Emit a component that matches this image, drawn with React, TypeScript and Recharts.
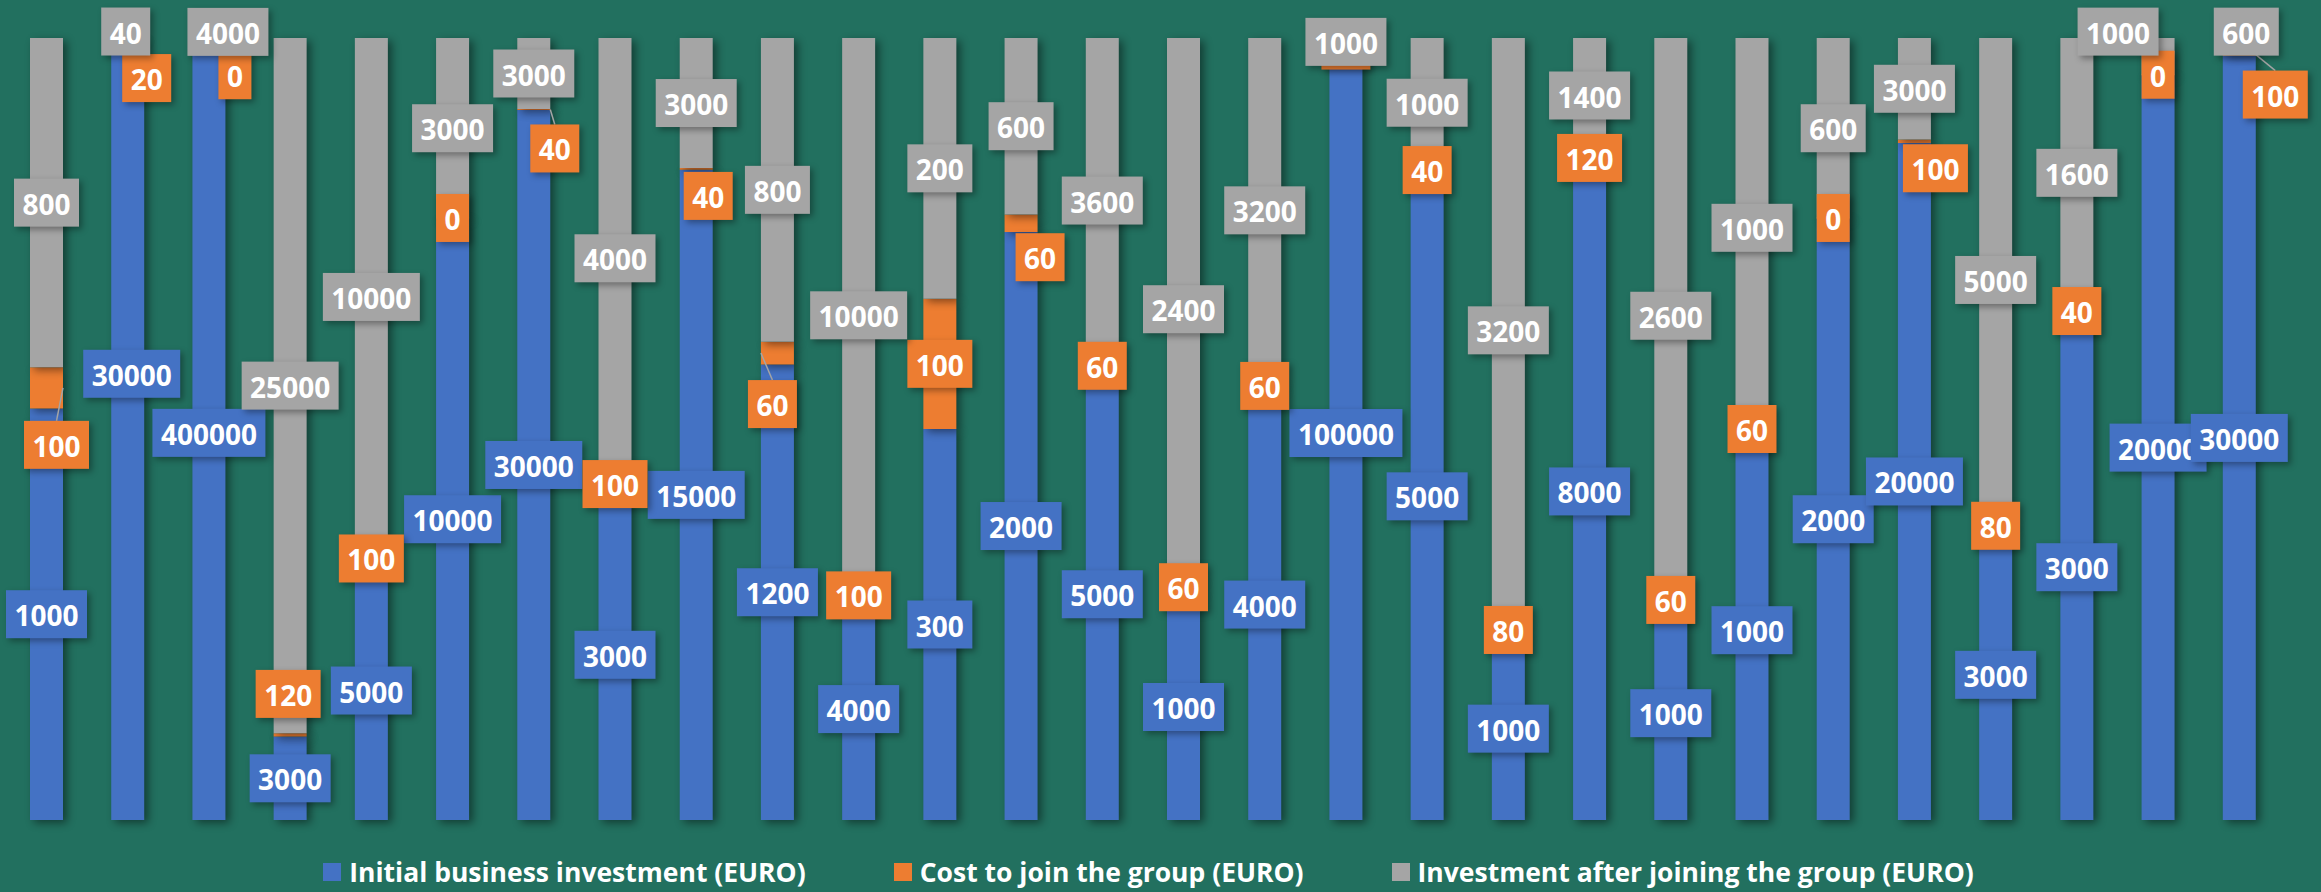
import React from 'react'
import { Bar, BarChart, LabelList, XAxis, YAxis } from 'recharts'

// 28 respondents, no category names are shown on the chart
const groups = ['1', '2', '3', '4', '5', '6', '7', '8', '9', '10', '11', '12', '13', '14', '15', '16', '17', '18', '19', '20', '21', '22', '23', '24', '25', '26', '27', '28']

const initialInvestment = [1000, 30000, 400000, 3000, 5000, 10000, 30000, 3000, 15000, 1200, 4000, 300, 2000, 5000, 1000, 4000, 100000, 5000, 1000, 8000, 1000, 1000, 2000, 20000, 3000, 3000, 20000, 30000]
const joinCost = [100, 20, 0, 120, 100, 0, 40, 100, 40, 60, 100, 100, 60, 60, 60, 60, 40, 40, 80, 120, 60, 60, 0, 100, 80, 40, 0, 100]
const afterJoining = [800, 40, 4000, 25000, 10000, 3000, 3000, 4000, 3000, 800, 10000, 200, 600, 3600, 2400, 3200, 1000, 1000, 3200, 1400, 2600, 1000, 600, 3000, 5000, 1600, 1000, 600]

const seriesNames = ['Initial business investment (EURO)', 'Cost to join the group (EURO)', 'Investment after joining the group (EURO)']

const BLUE = '#4472C4'
const ORANGE = '#ED7D31'
const GRAY = '#A5A5A5'
const BG = '#22705F'

// labels that were dragged away from the segment centre in the original
const initialShift: Record<number, number[]> = { 1: [4, -56] }
const costShift: Record<number, number[]> = {
    0: [10, 57], 1: [19, 39], 2: [26, 30], 3: [-2, -41], 6: [21, 39],
    8: [12, 27], 9: [-5, 51], 12: [19, 34], 23: [21, 27], 27: [36, 40],
}
const afterShift: Record<number, number[]> = { 1: [-2, -7], 2: [19, -10], 26: [-40, -25], 27: [7, -14] }
const costLeaders = [0, 6, 9, 27]

const rows = groups.map((g, i) => ({
    group: g,
    initial: initialInvestment[i],
    cost: joinCost[i],
    after: afterJoining[i],
}))

// LabelList gets dataKey="group", so value tells us which category we are on
const makeLabel = (values: number[], fill: string, shifts: Record<number, number[]>, leaders: number[] = []) => (props: any) => {
    const vb = props.viewBox || {}
    let index = groups.indexOf(String(props.value))
    if (index < 0) index = props.index
    const x = Number(props.x ?? vb.x)
    const y = Number(props.y ?? vb.y)
    const w = Number(props.width ?? vb.width)
    const h = Number(props.height ?? vb.height)
    if (index == null || isNaN(x) || isNaN(y)) return null
    const cx = x + w / 2
    const cy = y + h / 2
    const [dx, dy] = shifts[index] || [0, 0]
    const text = String(values[index])
    const bw = 17 + 16 * text.length
    const bh = 48
    const lx = cx + dx
    const ly = cy + dy
    return (
        <g>
            {leaders.includes(index) && (
                <line x1={lx > cx ? x + w : x} y1={cy} x2={lx} y2={ly - bh / 2} stroke="#A5A5A5" strokeWidth={1.5} />
            )}
            <rect x={lx - bw / 2} y={ly - bh / 2} width={bw} height={bh} fill={fill} style={{ filter: 'drop-shadow(3px 3px 3px rgba(0,0,0,0.35))' }} />
            <text x={lx} y={ly + 1} textAnchor="middle" dominantBaseline="central" fill="#fff"
                fontFamily="'Open Sans', sans-serif" fontWeight={700} fontSize={28}>
                {text}
            </text>
        </g>
    )
}

export default function App() {
    const legendColors = [BLUE, ORANGE, GRAY]
    return (
        <div style={{ position: 'absolute', left: 0, top: 0, width: 2321, height: 892, background: BG, overflow: 'hidden' }}>
            <style>{`.recharts-bar-rectangle path { filter: drop-shadow(4px 3px 4px rgba(0,0,0,0.45)); }`}</style>
            <BarChart
                width={2321}
                height={892}
                data={rows}
                stackOffset="expand"
                barSize={33}
                margin={{ top: 38, right: 41, bottom: 72, left: 6 }}
            >
                <XAxis dataKey="group" hide />
                <YAxis hide />
                <Bar dataKey="initial" stackId="a" fill={BLUE} isAnimationActive={false}>
                    <LabelList dataKey="group" content={makeLabel(initialInvestment, BLUE, initialShift)} />
                </Bar>
                <Bar dataKey="cost" stackId="a" fill={ORANGE} minPointSize={1} isAnimationActive={false}>
                    <LabelList dataKey="group" content={makeLabel(joinCost, ORANGE, costShift, costLeaders)} />
                </Bar>
                <Bar dataKey="after" stackId="a" fill={GRAY} isAnimationActive={false}>
                    <LabelList dataKey="group" content={makeLabel(afterJoining, GRAY, afterShift)} />
                </Bar>
            </BarChart>
            <div style={{
                position: 'absolute', top: 857, left: 0, width: 2297, display: 'flex', justifyContent: 'center', gap: 88,
                fontFamily: "'Open Sans', sans-serif", fontWeight: 700, fontSize: 26.5, color: '#fff', lineHeight: '30px',
            }}>
                {seriesNames.map((name, i) => (
                    <div key={name} style={{ display: 'flex', alignItems: 'center' }}>
                        <span style={{ width: 18, height: 18, background: legendColors[i], marginRight: 8, display: 'inline-block' }} />
                        <span>{name}</span>
                    </div>
                ))}
            </div>
        </div>
    )
}
